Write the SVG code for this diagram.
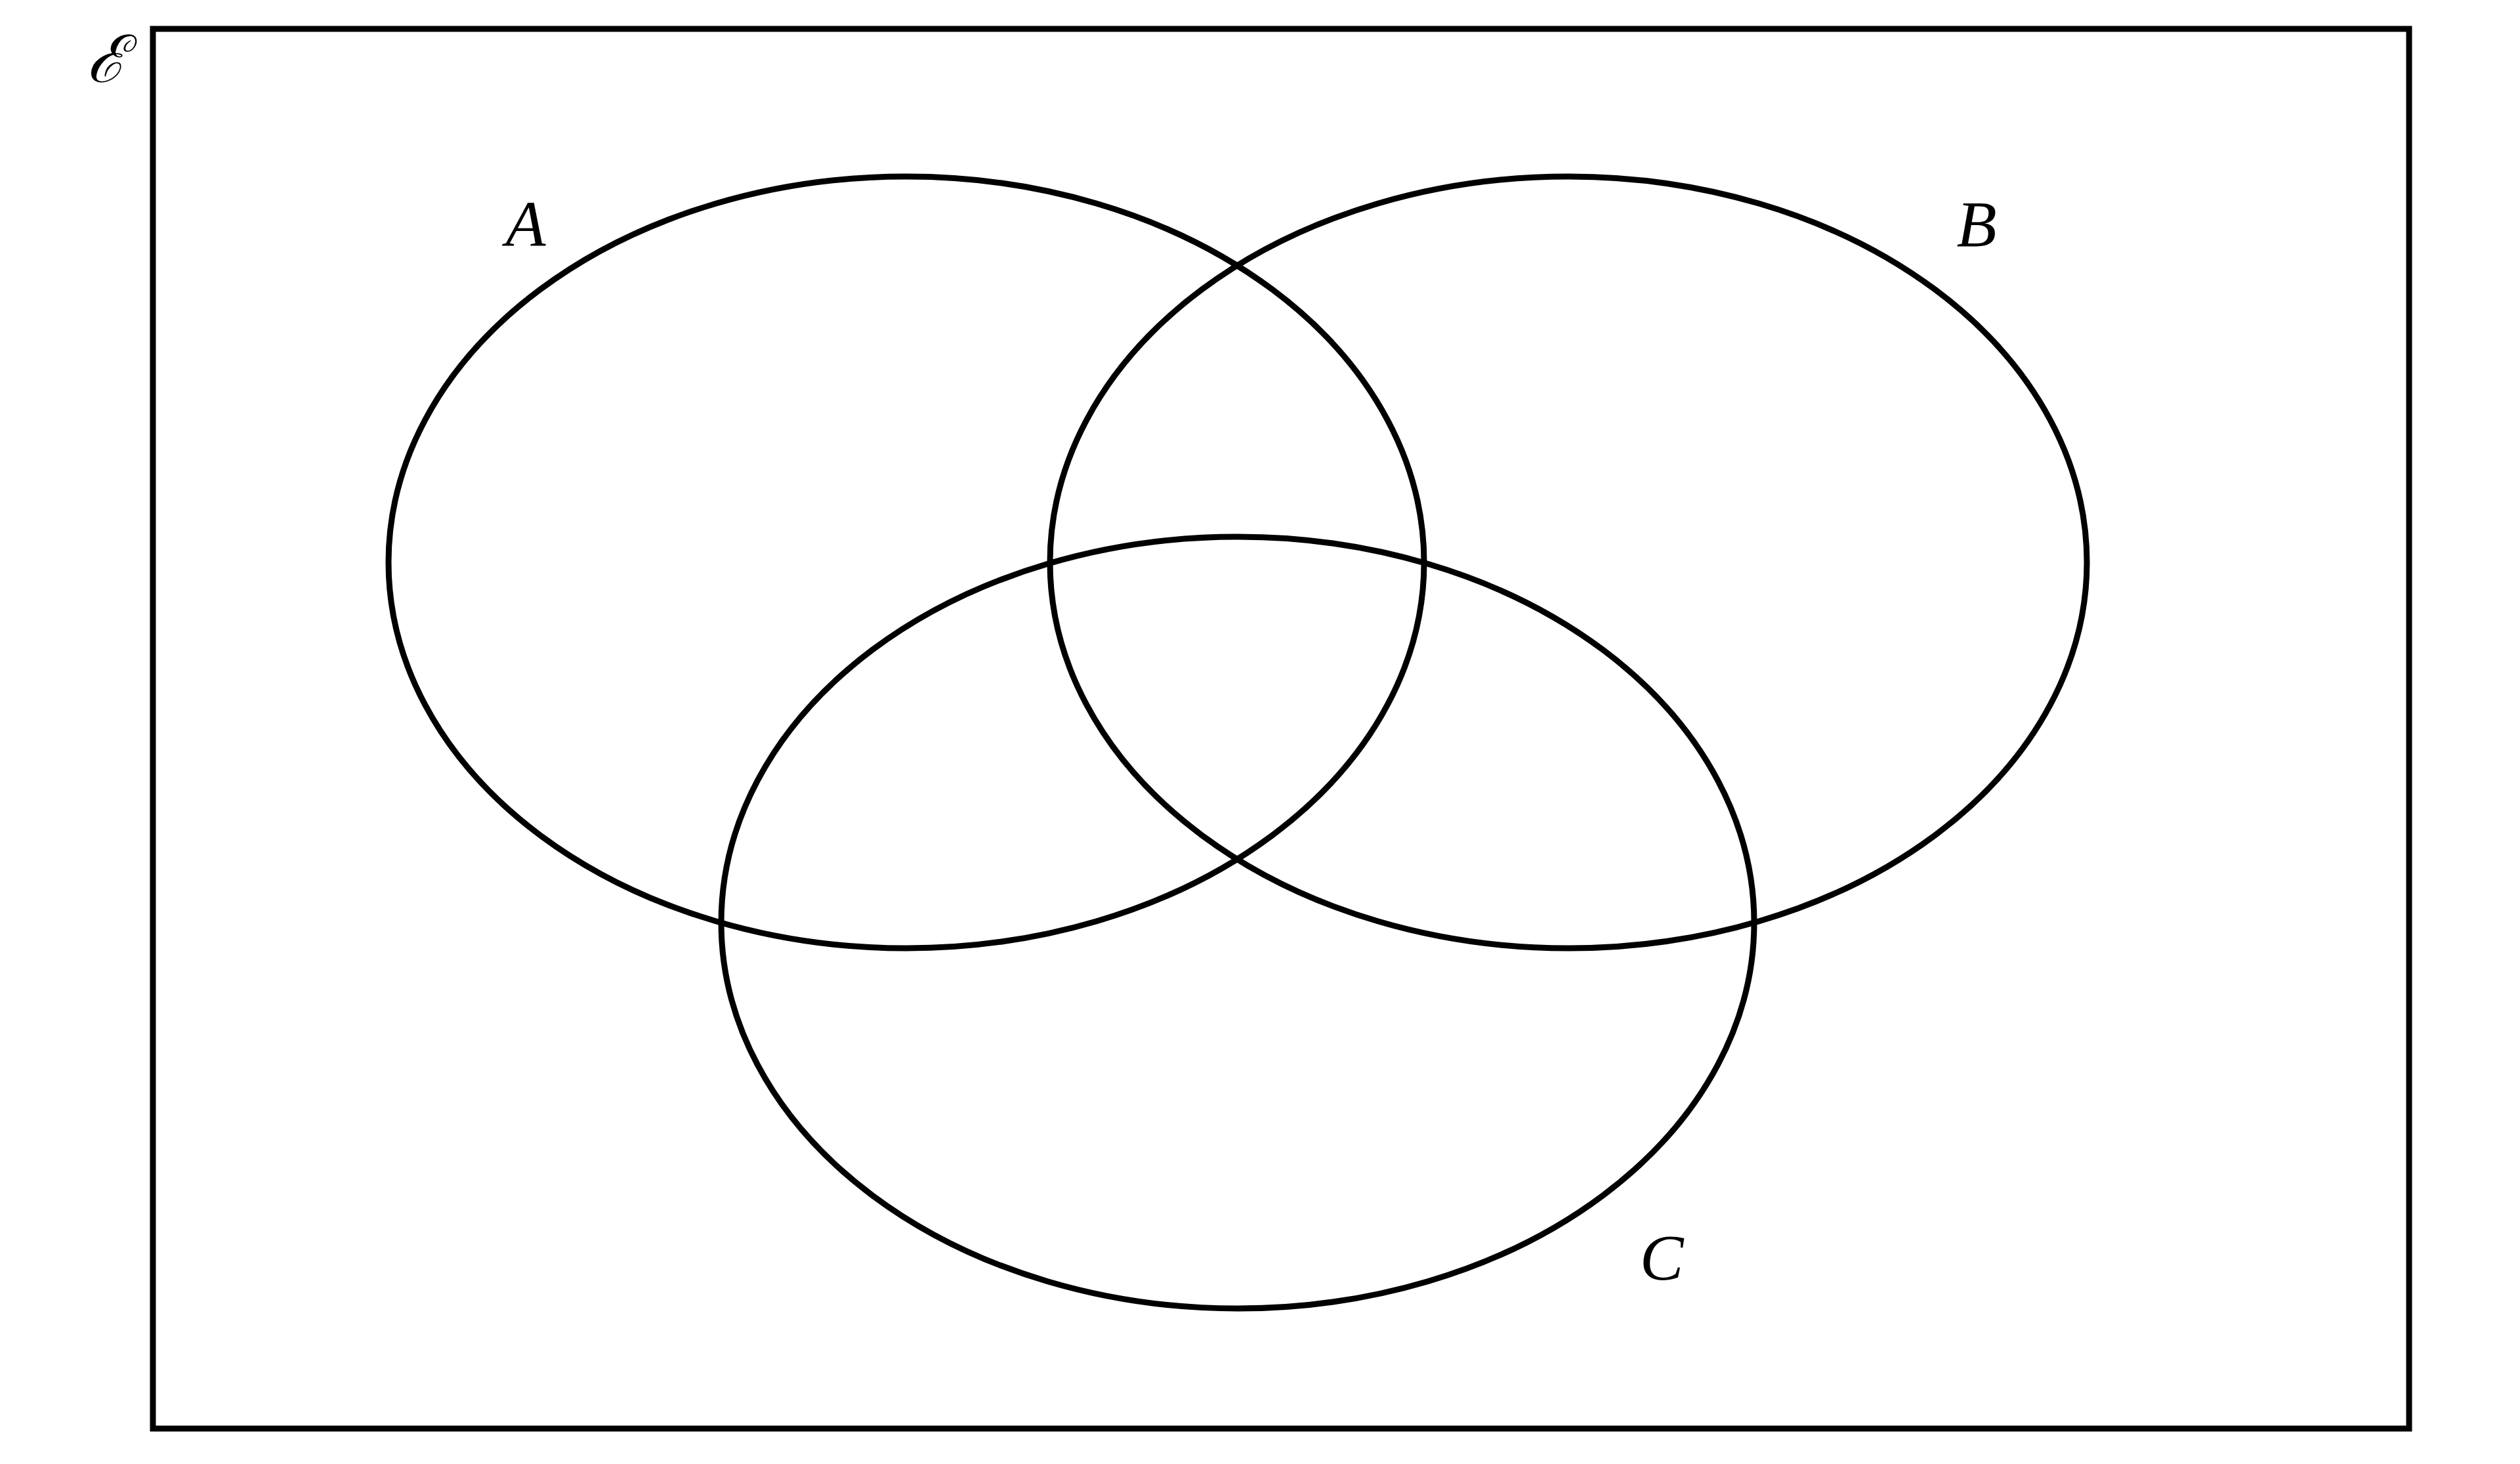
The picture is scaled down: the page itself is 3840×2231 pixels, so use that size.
<svg xmlns="http://www.w3.org/2000/svg" width="3840" height="2231" viewBox="0 0 3840 2231">
<style>
.s{fill:none;stroke:#000;stroke-width:9}
.t{font-family:"Liberation Serif",serif;font-style:italic;font-size:100px;fill:#000;text-anchor:middle}
</style>
<rect width="3840" height="2231" fill="#fff"/>
<g id="universe"><rect class="s" x="233" y="44" width="3438" height="2133"/><text class="t" x="162" y="125" font-size="90">ℰ</text></g>
<g id="A"><ellipse class="s" cx="1381" cy="857" rx="789" ry="588"/><text class="t" x="801" y="375">A</text></g>
<g id="B"><ellipse class="s" cx="2390" cy="857" rx="790" ry="588"/><text class="t" x="3012" y="375">B</text></g>
<g id="C"><ellipse class="s" cx="1886" cy="1406" rx="787" ry="588"/><text class="t" x="2532" y="1950">C</text></g>
<g id="connectors"/>
</svg>
